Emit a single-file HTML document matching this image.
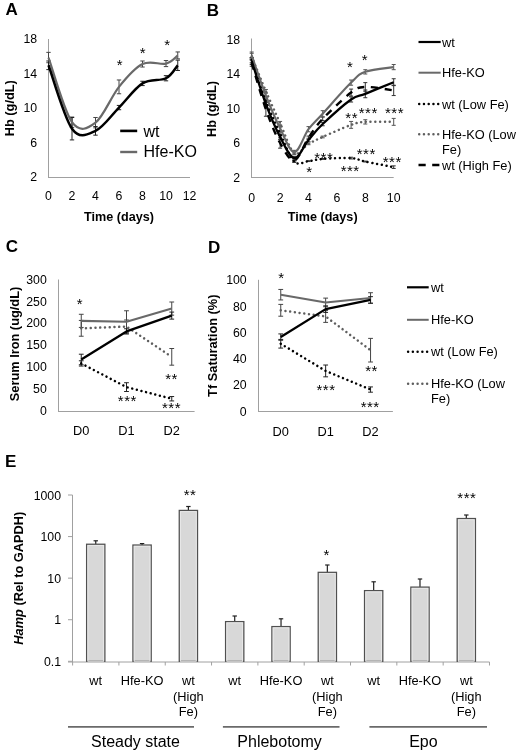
<!DOCTYPE html>
<html><head><meta charset="utf-8"><style>
html,body{margin:0;padding:0;background:#fff;}
body{width:520px;height:752px;overflow:hidden;}
svg{display:block;font-family:"Liberation Sans", sans-serif;filter:blur(0.3px);}
</style></head><body>
<svg width="520" height="752" viewBox="0 0 520 752">
<defs><pattern id="dots" width="2" height="2" patternUnits="userSpaceOnUse"><rect width="2" height="2" fill="#e2e2e2"/><rect width="1" height="1" fill="#cfcfcf"/></pattern></defs>
<rect width="520" height="752" fill="#fff"/>
<text x="5.60" y="15.30" font-size="17" text-anchor="start" font-weight="bold" font-style="normal" fill="#000" >A</text>
<line x1="48.50" y1="39.00" x2="48.50" y2="178.00" stroke="#a0a0a0" stroke-width="1" />
<line x1="48.50" y1="177.50" x2="190.00" y2="177.50" stroke="#a0a0a0" stroke-width="1" />
<text x="37.20" y="43.40" font-size="12.3" text-anchor="end" font-weight="normal" font-style="normal" fill="#000" >18</text>
<text x="37.20" y="77.90" font-size="12.3" text-anchor="end" font-weight="normal" font-style="normal" fill="#000" >14</text>
<text x="37.20" y="112.40" font-size="12.3" text-anchor="end" font-weight="normal" font-style="normal" fill="#000" >10</text>
<text x="37.20" y="146.90" font-size="12.3" text-anchor="end" font-weight="normal" font-style="normal" fill="#000" >6</text>
<text x="37.20" y="181.40" font-size="12.3" text-anchor="end" font-weight="normal" font-style="normal" fill="#000" >2</text>
<text x="48.50" y="200.20" font-size="12.3" text-anchor="middle" font-weight="normal" font-style="normal" fill="#000" >0</text>
<text x="72.00" y="200.20" font-size="12.3" text-anchor="middle" font-weight="normal" font-style="normal" fill="#000" >2</text>
<text x="95.50" y="200.20" font-size="12.3" text-anchor="middle" font-weight="normal" font-style="normal" fill="#000" >4</text>
<text x="119.00" y="200.20" font-size="12.3" text-anchor="middle" font-weight="normal" font-style="normal" fill="#000" >6</text>
<text x="142.50" y="200.20" font-size="12.3" text-anchor="middle" font-weight="normal" font-style="normal" fill="#000" >8</text>
<text x="166.00" y="200.20" font-size="12.3" text-anchor="middle" font-weight="normal" font-style="normal" fill="#000" >10</text>
<text x="189.50" y="200.20" font-size="12.3" text-anchor="middle" font-weight="normal" font-style="normal" fill="#000" >12</text>
<text x="119.00" y="220.80" font-size="12.6" text-anchor="middle" font-weight="bold" font-style="normal" fill="#000" >Time (days)</text>
<text x="0" y="0" font-size="12.8" text-anchor="middle" font-weight="bold" fill="#000" transform="translate(14.00,108.20) rotate(-90)">Hb (g/dL)</text>
<line x1="48.50" y1="52.37" x2="48.50" y2="62.72" stroke="#444" stroke-width="1.0" />
<line x1="46.30" y1="52.37" x2="50.70" y2="52.37" stroke="#444" stroke-width="1.0" />
<line x1="46.30" y1="62.72" x2="50.70" y2="62.72" stroke="#444" stroke-width="1.0" />
<line x1="72.00" y1="117.06" x2="72.00" y2="127.41" stroke="#444" stroke-width="1.0" />
<line x1="69.80" y1="117.06" x2="74.20" y2="117.06" stroke="#444" stroke-width="1.0" />
<line x1="69.80" y1="127.41" x2="74.20" y2="127.41" stroke="#444" stroke-width="1.0" />
<line x1="95.50" y1="117.49" x2="95.50" y2="127.84" stroke="#444" stroke-width="1.0" />
<line x1="93.30" y1="117.49" x2="97.70" y2="117.49" stroke="#444" stroke-width="1.0" />
<line x1="93.30" y1="127.84" x2="97.70" y2="127.84" stroke="#444" stroke-width="1.0" />
<line x1="119.00" y1="79.97" x2="119.00" y2="93.77" stroke="#444" stroke-width="1.0" />
<line x1="116.80" y1="79.97" x2="121.20" y2="79.97" stroke="#444" stroke-width="1.0" />
<line x1="116.80" y1="93.77" x2="121.20" y2="93.77" stroke="#444" stroke-width="1.0" />
<line x1="142.50" y1="60.99" x2="142.50" y2="67.03" stroke="#444" stroke-width="1.0" />
<line x1="140.30" y1="60.99" x2="144.70" y2="60.99" stroke="#444" stroke-width="1.0" />
<line x1="140.30" y1="67.03" x2="144.70" y2="67.03" stroke="#444" stroke-width="1.0" />
<line x1="166.00" y1="60.56" x2="166.00" y2="66.60" stroke="#444" stroke-width="1.0" />
<line x1="163.80" y1="60.56" x2="168.20" y2="60.56" stroke="#444" stroke-width="1.0" />
<line x1="163.80" y1="66.60" x2="168.20" y2="66.60" stroke="#444" stroke-width="1.0" />
<line x1="177.75" y1="51.94" x2="177.75" y2="58.84" stroke="#444" stroke-width="1.0" />
<line x1="175.55" y1="51.94" x2="179.95" y2="51.94" stroke="#444" stroke-width="1.0" />
<line x1="175.55" y1="58.84" x2="179.95" y2="58.84" stroke="#444" stroke-width="1.0" />
<line x1="48.50" y1="60.99" x2="48.50" y2="69.62" stroke="#222" stroke-width="1.0" />
<line x1="46.30" y1="60.99" x2="50.70" y2="60.99" stroke="#222" stroke-width="1.0" />
<line x1="46.30" y1="69.62" x2="50.70" y2="69.62" stroke="#222" stroke-width="1.0" />
<line x1="72.00" y1="117.49" x2="72.00" y2="139.91" stroke="#222" stroke-width="1.0" />
<line x1="69.80" y1="117.49" x2="74.20" y2="117.49" stroke="#222" stroke-width="1.0" />
<line x1="69.80" y1="139.91" x2="74.20" y2="139.91" stroke="#222" stroke-width="1.0" />
<line x1="95.50" y1="126.54" x2="95.50" y2="135.17" stroke="#222" stroke-width="1.0" />
<line x1="93.30" y1="126.54" x2="97.70" y2="126.54" stroke="#222" stroke-width="1.0" />
<line x1="93.30" y1="135.17" x2="97.70" y2="135.17" stroke="#222" stroke-width="1.0" />
<line x1="119.00" y1="105.41" x2="119.00" y2="109.72" stroke="#222" stroke-width="1.0" />
<line x1="116.80" y1="105.41" x2="121.20" y2="105.41" stroke="#222" stroke-width="1.0" />
<line x1="116.80" y1="109.72" x2="121.20" y2="109.72" stroke="#222" stroke-width="1.0" />
<line x1="142.50" y1="81.26" x2="142.50" y2="85.58" stroke="#222" stroke-width="1.0" />
<line x1="140.30" y1="81.26" x2="144.70" y2="81.26" stroke="#222" stroke-width="1.0" />
<line x1="140.30" y1="85.58" x2="144.70" y2="85.58" stroke="#222" stroke-width="1.0" />
<line x1="166.00" y1="75.66" x2="166.00" y2="80.83" stroke="#222" stroke-width="1.0" />
<line x1="163.80" y1="75.66" x2="168.20" y2="75.66" stroke="#222" stroke-width="1.0" />
<line x1="163.80" y1="80.83" x2="168.20" y2="80.83" stroke="#222" stroke-width="1.0" />
<line x1="177.75" y1="60.13" x2="177.75" y2="70.48" stroke="#222" stroke-width="1.0" />
<line x1="175.55" y1="60.13" x2="179.95" y2="60.13" stroke="#222" stroke-width="1.0" />
<line x1="175.55" y1="70.48" x2="179.95" y2="70.48" stroke="#222" stroke-width="1.0" />
<path d="M48.50,57.54 C52.42,68.33 64.17,111.38 72.00,122.23 C79.83,133.08 87.67,128.56 95.50,122.66 C103.33,116.77 111.17,96.64 119.00,86.87 C126.83,77.09 134.67,67.89 142.50,64.01 C150.33,60.13 160.12,65.02 166.00,63.58 C171.88,62.14 175.79,56.75 177.75,55.39" fill="none" stroke="#696969" stroke-width="2.2" stroke-linecap="butt" stroke-linejoin="round" />
<path d="M48.50,65.31 C52.42,75.87 64.17,117.77 72.00,128.70 C79.83,139.62 87.67,134.38 95.50,130.86 C103.33,127.33 111.17,115.47 119.00,107.57 C126.83,99.66 134.67,88.31 142.50,83.42 C150.33,78.53 160.12,81.26 166.00,78.24 C171.88,75.23 175.79,67.46 177.75,65.31" fill="none" stroke="#000000" stroke-width="2.5" stroke-linecap="butt" stroke-linejoin="round" />
<text x="119.85" y="70.22" font-size="15" text-anchor="middle" font-weight="normal" font-style="normal" fill="#000" letter-spacing="0.5">*</text>
<text x="142.85" y="57.83" font-size="15" text-anchor="middle" font-weight="normal" font-style="normal" fill="#000" letter-spacing="0.5">*</text>
<text x="167.35" y="50.43" font-size="15" text-anchor="middle" font-weight="normal" font-style="normal" fill="#000" letter-spacing="0.5">*</text>
<line x1="120.20" y1="130.90" x2="137.20" y2="130.90" stroke="#000000" stroke-width="2.6" />
<text x="143.50" y="136.60" font-size="16" text-anchor="start" font-weight="normal" font-style="normal" fill="#000" >wt</text>
<line x1="120.20" y1="152.00" x2="137.20" y2="152.00" stroke="#696969" stroke-width="2.4" />
<text x="143.50" y="157.40" font-size="16" text-anchor="start" font-weight="normal" font-style="normal" fill="#000" >Hfe-KO</text>
<text x="206.80" y="15.80" font-size="17" text-anchor="start" font-weight="bold" font-style="normal" fill="#000" >B</text>
<line x1="251.50" y1="38.50" x2="251.50" y2="178.00" stroke="#a0a0a0" stroke-width="1" />
<line x1="251.50" y1="177.50" x2="393.70" y2="177.50" stroke="#a0a0a0" stroke-width="1" />
<text x="240.20" y="43.90" font-size="12.3" text-anchor="end" font-weight="normal" font-style="normal" fill="#000" >18</text>
<text x="240.20" y="78.40" font-size="12.3" text-anchor="end" font-weight="normal" font-style="normal" fill="#000" >14</text>
<text x="240.20" y="112.90" font-size="12.3" text-anchor="end" font-weight="normal" font-style="normal" fill="#000" >10</text>
<text x="240.20" y="147.40" font-size="12.3" text-anchor="end" font-weight="normal" font-style="normal" fill="#000" >6</text>
<text x="240.20" y="181.90" font-size="12.3" text-anchor="end" font-weight="normal" font-style="normal" fill="#000" >2</text>
<text x="251.70" y="201.50" font-size="12.3" text-anchor="middle" font-weight="normal" font-style="normal" fill="#000" >0</text>
<text x="280.10" y="201.50" font-size="12.3" text-anchor="middle" font-weight="normal" font-style="normal" fill="#000" >2</text>
<text x="308.50" y="201.50" font-size="12.3" text-anchor="middle" font-weight="normal" font-style="normal" fill="#000" >4</text>
<text x="336.90" y="201.50" font-size="12.3" text-anchor="middle" font-weight="normal" font-style="normal" fill="#000" >6</text>
<text x="365.30" y="201.50" font-size="12.3" text-anchor="middle" font-weight="normal" font-style="normal" fill="#000" >8</text>
<text x="393.70" y="201.50" font-size="12.3" text-anchor="middle" font-weight="normal" font-style="normal" fill="#000" >10</text>
<text x="322.70" y="221.00" font-size="12.6" text-anchor="middle" font-weight="bold" font-style="normal" fill="#000" >Time (days)</text>
<text x="0" y="0" font-size="12.8" text-anchor="middle" font-weight="bold" fill="#000" transform="translate(216.20,109.00) rotate(-90)">Hb (g/dL)</text>
<line x1="251.70" y1="53.30" x2="251.70" y2="60.20" stroke="#555" stroke-width="1.0" />
<line x1="249.70" y1="53.30" x2="253.70" y2="53.30" stroke="#555" stroke-width="1.0" />
<line x1="249.70" y1="60.20" x2="253.70" y2="60.20" stroke="#555" stroke-width="1.0" />
<line x1="265.90" y1="89.53" x2="265.90" y2="92.97" stroke="#555" stroke-width="1.0" />
<line x1="263.90" y1="89.53" x2="267.90" y2="89.53" stroke="#555" stroke-width="1.0" />
<line x1="263.90" y1="92.97" x2="267.90" y2="92.97" stroke="#555" stroke-width="1.0" />
<line x1="280.10" y1="121.44" x2="280.10" y2="124.89" stroke="#555" stroke-width="1.0" />
<line x1="278.10" y1="121.44" x2="282.10" y2="121.44" stroke="#555" stroke-width="1.0" />
<line x1="278.10" y1="124.89" x2="282.10" y2="124.89" stroke="#555" stroke-width="1.0" />
<line x1="294.30" y1="151.19" x2="294.30" y2="154.64" stroke="#555" stroke-width="1.0" />
<line x1="292.30" y1="151.19" x2="296.30" y2="151.19" stroke="#555" stroke-width="1.0" />
<line x1="292.30" y1="154.64" x2="296.30" y2="154.64" stroke="#555" stroke-width="1.0" />
<line x1="308.50" y1="143.00" x2="308.50" y2="144.72" stroke="#555" stroke-width="1.0" />
<line x1="306.50" y1="143.00" x2="310.50" y2="143.00" stroke="#555" stroke-width="1.0" />
<line x1="306.50" y1="144.72" x2="310.50" y2="144.72" stroke="#555" stroke-width="1.0" />
<line x1="322.70" y1="136.10" x2="322.70" y2="137.82" stroke="#555" stroke-width="1.0" />
<line x1="320.70" y1="136.10" x2="324.70" y2="136.10" stroke="#555" stroke-width="1.0" />
<line x1="320.70" y1="137.82" x2="324.70" y2="137.82" stroke="#555" stroke-width="1.0" />
<line x1="351.10" y1="121.44" x2="351.10" y2="128.34" stroke="#555" stroke-width="1.0" />
<line x1="349.10" y1="121.44" x2="353.10" y2="121.44" stroke="#555" stroke-width="1.0" />
<line x1="349.10" y1="128.34" x2="353.10" y2="128.34" stroke="#555" stroke-width="1.0" />
<line x1="365.30" y1="119.71" x2="365.30" y2="124.03" stroke="#555" stroke-width="1.0" />
<line x1="363.30" y1="119.71" x2="367.30" y2="119.71" stroke="#555" stroke-width="1.0" />
<line x1="363.30" y1="124.03" x2="367.30" y2="124.03" stroke="#555" stroke-width="1.0" />
<line x1="393.70" y1="118.42" x2="393.70" y2="125.32" stroke="#555" stroke-width="1.0" />
<line x1="391.70" y1="118.42" x2="395.70" y2="118.42" stroke="#555" stroke-width="1.0" />
<line x1="391.70" y1="125.32" x2="395.70" y2="125.32" stroke="#555" stroke-width="1.0" />
<line x1="251.70" y1="57.61" x2="251.70" y2="62.79" stroke="#333" stroke-width="1.0" />
<line x1="249.70" y1="57.61" x2="253.70" y2="57.61" stroke="#333" stroke-width="1.0" />
<line x1="249.70" y1="62.79" x2="253.70" y2="62.79" stroke="#333" stroke-width="1.0" />
<line x1="265.90" y1="99.01" x2="265.90" y2="102.46" stroke="#333" stroke-width="1.0" />
<line x1="263.90" y1="99.01" x2="267.90" y2="99.01" stroke="#333" stroke-width="1.0" />
<line x1="263.90" y1="102.46" x2="267.90" y2="102.46" stroke="#333" stroke-width="1.0" />
<line x1="280.10" y1="131.79" x2="280.10" y2="135.24" stroke="#333" stroke-width="1.0" />
<line x1="278.10" y1="131.79" x2="282.10" y2="131.79" stroke="#333" stroke-width="1.0" />
<line x1="278.10" y1="135.24" x2="282.10" y2="135.24" stroke="#333" stroke-width="1.0" />
<line x1="294.30" y1="160.68" x2="294.30" y2="162.41" stroke="#333" stroke-width="1.0" />
<line x1="292.30" y1="160.68" x2="296.30" y2="160.68" stroke="#333" stroke-width="1.0" />
<line x1="292.30" y1="162.41" x2="296.30" y2="162.41" stroke="#333" stroke-width="1.0" />
<line x1="308.50" y1="160.68" x2="308.50" y2="161.54" stroke="#333" stroke-width="1.0" />
<line x1="306.50" y1="160.68" x2="310.50" y2="160.68" stroke="#333" stroke-width="1.0" />
<line x1="306.50" y1="161.54" x2="310.50" y2="161.54" stroke="#333" stroke-width="1.0" />
<line x1="322.70" y1="158.53" x2="322.70" y2="159.39" stroke="#333" stroke-width="1.0" />
<line x1="320.70" y1="158.53" x2="324.70" y2="158.53" stroke="#333" stroke-width="1.0" />
<line x1="320.70" y1="159.39" x2="324.70" y2="159.39" stroke="#333" stroke-width="1.0" />
<line x1="351.10" y1="157.23" x2="351.10" y2="158.96" stroke="#333" stroke-width="1.0" />
<line x1="349.10" y1="157.23" x2="353.10" y2="157.23" stroke="#333" stroke-width="1.0" />
<line x1="349.10" y1="158.96" x2="353.10" y2="158.96" stroke="#333" stroke-width="1.0" />
<line x1="365.30" y1="161.11" x2="365.30" y2="161.97" stroke="#333" stroke-width="1.0" />
<line x1="363.30" y1="161.11" x2="367.30" y2="161.11" stroke="#333" stroke-width="1.0" />
<line x1="363.30" y1="161.97" x2="367.30" y2="161.97" stroke="#333" stroke-width="1.0" />
<line x1="393.70" y1="165.86" x2="393.70" y2="168.44" stroke="#333" stroke-width="1.0" />
<line x1="391.70" y1="165.86" x2="395.70" y2="165.86" stroke="#333" stroke-width="1.0" />
<line x1="391.70" y1="168.44" x2="395.70" y2="168.44" stroke="#333" stroke-width="1.0" />
<line x1="251.70" y1="59.34" x2="251.70" y2="66.24" stroke="#333" stroke-width="1.0" />
<line x1="249.70" y1="59.34" x2="253.70" y2="59.34" stroke="#333" stroke-width="1.0" />
<line x1="249.70" y1="66.24" x2="253.70" y2="66.24" stroke="#333" stroke-width="1.0" />
<line x1="265.90" y1="102.46" x2="265.90" y2="116.26" stroke="#333" stroke-width="1.0" />
<line x1="263.90" y1="102.46" x2="267.90" y2="102.46" stroke="#333" stroke-width="1.0" />
<line x1="263.90" y1="116.26" x2="267.90" y2="116.26" stroke="#333" stroke-width="1.0" />
<line x1="280.10" y1="137.82" x2="280.10" y2="148.18" stroke="#333" stroke-width="1.0" />
<line x1="278.10" y1="137.82" x2="282.10" y2="137.82" stroke="#333" stroke-width="1.0" />
<line x1="278.10" y1="148.18" x2="282.10" y2="148.18" stroke="#333" stroke-width="1.0" />
<line x1="294.30" y1="158.53" x2="294.30" y2="161.97" stroke="#333" stroke-width="1.0" />
<line x1="292.30" y1="158.53" x2="296.30" y2="158.53" stroke="#333" stroke-width="1.0" />
<line x1="292.30" y1="161.97" x2="296.30" y2="161.97" stroke="#333" stroke-width="1.0" />
<line x1="308.50" y1="136.10" x2="308.50" y2="139.55" stroke="#333" stroke-width="1.0" />
<line x1="306.50" y1="136.10" x2="310.50" y2="136.10" stroke="#333" stroke-width="1.0" />
<line x1="306.50" y1="139.55" x2="310.50" y2="139.55" stroke="#333" stroke-width="1.0" />
<line x1="322.70" y1="117.12" x2="322.70" y2="120.57" stroke="#333" stroke-width="1.0" />
<line x1="320.70" y1="117.12" x2="324.70" y2="117.12" stroke="#333" stroke-width="1.0" />
<line x1="320.70" y1="120.57" x2="324.70" y2="120.57" stroke="#333" stroke-width="1.0" />
<line x1="351.10" y1="89.09" x2="351.10" y2="95.99" stroke="#333" stroke-width="1.0" />
<line x1="349.10" y1="89.09" x2="353.10" y2="89.09" stroke="#333" stroke-width="1.0" />
<line x1="349.10" y1="95.99" x2="353.10" y2="95.99" stroke="#333" stroke-width="1.0" />
<line x1="365.30" y1="82.62" x2="365.30" y2="91.25" stroke="#333" stroke-width="1.0" />
<line x1="363.30" y1="82.62" x2="367.30" y2="82.62" stroke="#333" stroke-width="1.0" />
<line x1="363.30" y1="91.25" x2="367.30" y2="91.25" stroke="#333" stroke-width="1.0" />
<line x1="393.70" y1="85.21" x2="393.70" y2="95.56" stroke="#333" stroke-width="1.0" />
<line x1="391.70" y1="85.21" x2="395.70" y2="85.21" stroke="#333" stroke-width="1.0" />
<line x1="391.70" y1="95.56" x2="395.70" y2="95.56" stroke="#333" stroke-width="1.0" />
<line x1="251.70" y1="52.01" x2="251.70" y2="58.91" stroke="#555" stroke-width="1.0" />
<line x1="249.70" y1="52.01" x2="253.70" y2="52.01" stroke="#555" stroke-width="1.0" />
<line x1="249.70" y1="58.91" x2="253.70" y2="58.91" stroke="#555" stroke-width="1.0" />
<line x1="265.90" y1="92.97" x2="265.90" y2="98.15" stroke="#555" stroke-width="1.0" />
<line x1="263.90" y1="92.97" x2="267.90" y2="92.97" stroke="#555" stroke-width="1.0" />
<line x1="263.90" y1="98.15" x2="267.90" y2="98.15" stroke="#555" stroke-width="1.0" />
<line x1="280.10" y1="125.75" x2="280.10" y2="130.93" stroke="#555" stroke-width="1.0" />
<line x1="278.10" y1="125.75" x2="282.10" y2="125.75" stroke="#555" stroke-width="1.0" />
<line x1="278.10" y1="130.93" x2="282.10" y2="130.93" stroke="#555" stroke-width="1.0" />
<line x1="294.30" y1="150.33" x2="294.30" y2="153.78" stroke="#555" stroke-width="1.0" />
<line x1="292.30" y1="150.33" x2="296.30" y2="150.33" stroke="#555" stroke-width="1.0" />
<line x1="292.30" y1="153.78" x2="296.30" y2="153.78" stroke="#555" stroke-width="1.0" />
<line x1="308.50" y1="126.61" x2="308.50" y2="131.79" stroke="#555" stroke-width="1.0" />
<line x1="306.50" y1="126.61" x2="310.50" y2="126.61" stroke="#555" stroke-width="1.0" />
<line x1="306.50" y1="131.79" x2="310.50" y2="131.79" stroke="#555" stroke-width="1.0" />
<line x1="322.70" y1="110.66" x2="322.70" y2="116.69" stroke="#555" stroke-width="1.0" />
<line x1="320.70" y1="110.66" x2="324.70" y2="110.66" stroke="#555" stroke-width="1.0" />
<line x1="320.70" y1="116.69" x2="324.70" y2="116.69" stroke="#555" stroke-width="1.0" />
<line x1="351.10" y1="80.04" x2="351.10" y2="85.21" stroke="#555" stroke-width="1.0" />
<line x1="349.10" y1="80.04" x2="353.10" y2="80.04" stroke="#555" stroke-width="1.0" />
<line x1="349.10" y1="85.21" x2="353.10" y2="85.21" stroke="#555" stroke-width="1.0" />
<line x1="365.30" y1="69.69" x2="365.30" y2="74.00" stroke="#555" stroke-width="1.0" />
<line x1="363.30" y1="69.69" x2="367.30" y2="69.69" stroke="#555" stroke-width="1.0" />
<line x1="363.30" y1="74.00" x2="367.30" y2="74.00" stroke="#555" stroke-width="1.0" />
<line x1="393.70" y1="64.51" x2="393.70" y2="69.69" stroke="#555" stroke-width="1.0" />
<line x1="391.70" y1="64.51" x2="395.70" y2="64.51" stroke="#555" stroke-width="1.0" />
<line x1="391.70" y1="69.69" x2="395.70" y2="69.69" stroke="#555" stroke-width="1.0" />
<line x1="251.70" y1="57.61" x2="251.70" y2="64.51" stroke="#333" stroke-width="1.0" />
<line x1="249.70" y1="57.61" x2="253.70" y2="57.61" stroke="#333" stroke-width="1.0" />
<line x1="249.70" y1="64.51" x2="253.70" y2="64.51" stroke="#333" stroke-width="1.0" />
<line x1="265.90" y1="101.60" x2="265.90" y2="106.78" stroke="#333" stroke-width="1.0" />
<line x1="263.90" y1="101.60" x2="267.90" y2="101.60" stroke="#333" stroke-width="1.0" />
<line x1="263.90" y1="106.78" x2="267.90" y2="106.78" stroke="#333" stroke-width="1.0" />
<line x1="280.10" y1="134.38" x2="280.10" y2="139.55" stroke="#333" stroke-width="1.0" />
<line x1="278.10" y1="134.38" x2="282.10" y2="134.38" stroke="#333" stroke-width="1.0" />
<line x1="278.10" y1="139.55" x2="282.10" y2="139.55" stroke="#333" stroke-width="1.0" />
<line x1="294.30" y1="156.37" x2="294.30" y2="159.82" stroke="#333" stroke-width="1.0" />
<line x1="292.30" y1="156.37" x2="296.30" y2="156.37" stroke="#333" stroke-width="1.0" />
<line x1="292.30" y1="159.82" x2="296.30" y2="159.82" stroke="#333" stroke-width="1.0" />
<line x1="308.50" y1="138.26" x2="308.50" y2="141.71" stroke="#333" stroke-width="1.0" />
<line x1="306.50" y1="138.26" x2="310.50" y2="138.26" stroke="#333" stroke-width="1.0" />
<line x1="306.50" y1="141.71" x2="310.50" y2="141.71" stroke="#333" stroke-width="1.0" />
<line x1="322.70" y1="122.30" x2="322.70" y2="125.75" stroke="#333" stroke-width="1.0" />
<line x1="320.70" y1="122.30" x2="324.70" y2="122.30" stroke="#333" stroke-width="1.0" />
<line x1="320.70" y1="125.75" x2="324.70" y2="125.75" stroke="#333" stroke-width="1.0" />
<line x1="351.10" y1="96.86" x2="351.10" y2="102.03" stroke="#333" stroke-width="1.0" />
<line x1="349.10" y1="96.86" x2="353.10" y2="96.86" stroke="#333" stroke-width="1.0" />
<line x1="349.10" y1="102.03" x2="353.10" y2="102.03" stroke="#333" stroke-width="1.0" />
<line x1="365.30" y1="89.96" x2="365.30" y2="97.72" stroke="#333" stroke-width="1.0" />
<line x1="363.30" y1="89.96" x2="367.30" y2="89.96" stroke="#333" stroke-width="1.0" />
<line x1="363.30" y1="97.72" x2="367.30" y2="97.72" stroke="#333" stroke-width="1.0" />
<line x1="393.70" y1="78.74" x2="393.70" y2="85.64" stroke="#333" stroke-width="1.0" />
<line x1="391.70" y1="78.74" x2="395.70" y2="78.74" stroke="#333" stroke-width="1.0" />
<line x1="391.70" y1="85.64" x2="395.70" y2="85.64" stroke="#333" stroke-width="1.0" />
<path d="M251.70,56.75 C254.07,62.50 261.17,80.18 265.90,91.25 C270.63,102.32 275.37,112.88 280.10,123.16 C284.83,133.44 289.57,149.47 294.30,152.92 C299.03,156.37 303.77,146.52 308.50,143.86 C313.23,141.20 315.60,140.12 322.70,136.96 C329.80,133.80 344.00,127.40 351.10,124.89 C358.20,122.37 358.20,122.37 365.30,121.87 C372.40,121.37 388.97,121.87 393.70,121.87" fill="none" stroke="#5e5e5e" stroke-width="2.5" stroke-linecap="round" stroke-linejoin="round" stroke-dasharray="0.01 4.74" />
<path d="M251.70,60.20 C254.07,66.96 261.17,88.52 265.90,100.74 C270.63,112.96 275.37,123.38 280.10,133.51 C284.83,143.65 289.57,156.94 294.30,161.54 C299.03,166.14 303.77,161.54 308.50,161.11 C313.23,160.68 315.60,159.46 322.70,158.96 C329.80,158.45 344.00,157.66 351.10,158.09 C358.20,158.53 358.20,160.03 365.30,161.54 C372.40,163.05 388.97,166.22 393.70,167.15" fill="none" stroke="#000000" stroke-width="2.5" stroke-linecap="round" stroke-linejoin="round" stroke-dasharray="0.01 4.74" />
<path d="M251.70,62.79 C254.07,70.55 261.17,95.99 265.90,109.36 C270.63,122.73 275.37,134.52 280.10,143.00 C284.83,151.48 289.57,161.11 294.30,160.25 C299.03,159.39 303.77,144.72 308.50,137.82 C313.23,130.92 315.60,126.40 322.70,118.85 C329.80,111.30 344.00,97.86 351.10,92.54 C358.20,87.23 358.20,87.30 365.30,86.94 C372.40,86.58 388.97,89.81 393.70,90.39" fill="none" stroke="#000000" stroke-width="2.4" stroke-linecap="butt" stroke-linejoin="round" stroke-dasharray="7.2 6.5" />
<path d="M251.70,55.46 C254.07,62.14 261.17,83.42 265.90,95.56 C270.63,107.71 275.37,118.92 280.10,128.34 C284.83,137.75 289.57,151.91 294.30,152.06 C299.03,152.20 303.77,135.60 308.50,129.20 C313.23,122.80 315.60,121.44 322.70,113.67 C329.80,105.91 344.00,89.60 351.10,82.62 C358.20,75.65 358.20,74.43 365.30,71.84 C372.40,69.26 388.97,67.89 393.70,67.10" fill="none" stroke="#696969" stroke-width="2.1" stroke-linecap="butt" stroke-linejoin="round" />
<path d="M251.70,61.06 C254.07,68.25 261.17,91.54 265.90,104.19 C270.63,116.84 275.37,127.98 280.10,136.96 C284.83,145.95 289.57,157.59 294.30,158.09 C299.03,158.60 303.77,145.66 308.50,139.98 C313.23,134.30 315.60,130.78 322.70,124.03 C329.80,117.27 344.00,104.47 351.10,99.44 C358.20,94.41 358.20,96.71 365.30,93.84 C372.40,90.96 388.97,84.13 393.70,82.19" fill="none" stroke="#000000" stroke-width="2.3" stroke-linecap="butt" stroke-linejoin="round" />
<text x="350.05" y="71.92" font-size="15" text-anchor="middle" font-weight="normal" font-style="normal" fill="#000" letter-spacing="0.5">*</text>
<text x="364.85" y="65.02" font-size="15" text-anchor="middle" font-weight="normal" font-style="normal" fill="#000" letter-spacing="0.5">*</text>
<text x="351.65" y="122.62" font-size="15" text-anchor="middle" font-weight="normal" font-style="normal" fill="#000" letter-spacing="0.5">**</text>
<text x="368.25" y="118.22" font-size="15" text-anchor="middle" font-weight="normal" font-style="normal" fill="#000" letter-spacing="0.5">***</text>
<text x="394.55" y="118.22" font-size="15" text-anchor="middle" font-weight="normal" font-style="normal" fill="#000" letter-spacing="0.5">***</text>
<text x="323.75" y="163.12" font-size="15" text-anchor="middle" font-weight="normal" font-style="normal" fill="#000" letter-spacing="0.5">***</text>
<text x="309.45" y="176.53" font-size="15" text-anchor="middle" font-weight="normal" font-style="normal" fill="#000" letter-spacing="0.5">*</text>
<text x="366.25" y="158.72" font-size="15" text-anchor="middle" font-weight="normal" font-style="normal" fill="#000" letter-spacing="0.5">***</text>
<text x="350.15" y="176.42" font-size="15" text-anchor="middle" font-weight="normal" font-style="normal" fill="#000" letter-spacing="0.5">***</text>
<text x="392.25" y="166.62" font-size="15" text-anchor="middle" font-weight="normal" font-style="normal" fill="#000" letter-spacing="0.5">***</text>
<line x1="418.50" y1="42.00" x2="440.70" y2="42.00" stroke="#000000" stroke-width="2.2"  />
<text x="442.00" y="46.60" font-size="12.8" text-anchor="start" font-weight="normal" font-style="normal" fill="#000" >wt</text>
<line x1="418.50" y1="72.70" x2="440.70" y2="72.70" stroke="#696969" stroke-width="2.0"  />
<text x="442.00" y="77.30" font-size="12.8" text-anchor="start" font-weight="normal" font-style="normal" fill="#000" >Hfe-KO</text>
<line x1="419.20" y1="104.00" x2="440.70" y2="104.00" stroke="#000000" stroke-width="2.5" stroke-dasharray="0.01 4.74" stroke-linecap="round"/>
<text x="442.00" y="108.60" font-size="12.8" text-anchor="start" font-weight="normal" font-style="normal" fill="#000" >wt (Low Fe)</text>
<line x1="419.20" y1="134.30" x2="440.70" y2="134.30" stroke="#5e5e5e" stroke-width="2.5" stroke-dasharray="0.01 4.74" stroke-linecap="round"/>
<text x="442.00" y="138.90" font-size="12.8" text-anchor="start" font-weight="normal" font-style="normal" fill="#000" >Hfe-KO (Low</text>
<line x1="418.50" y1="165.00" x2="440.70" y2="165.00" stroke="#000000" stroke-width="2.4" stroke-dasharray="7.2 6.5" />
<text x="442.00" y="169.60" font-size="12.8" text-anchor="start" font-weight="normal" font-style="normal" fill="#000" >wt (High Fe)</text>
<text x="442.00" y="154.10" font-size="12.8" text-anchor="start" font-weight="normal" font-style="normal" fill="#000" >Fe)</text>
<text x="5.70" y="251.90" font-size="17" text-anchor="start" font-weight="bold" font-style="normal" fill="#000" >C</text>
<line x1="58.50" y1="279.50" x2="58.50" y2="412.00" stroke="#a0a0a0" stroke-width="1" />
<line x1="58.50" y1="411.50" x2="194.60" y2="411.50" stroke="#a0a0a0" stroke-width="1" />
<text x="46.80" y="283.59" font-size="12.3" text-anchor="end" font-weight="normal" font-style="normal" fill="#000" >300</text>
<text x="46.80" y="305.52" font-size="12.3" text-anchor="end" font-weight="normal" font-style="normal" fill="#000" >250</text>
<text x="46.80" y="327.46" font-size="12.3" text-anchor="end" font-weight="normal" font-style="normal" fill="#000" >200</text>
<text x="46.80" y="349.39" font-size="12.3" text-anchor="end" font-weight="normal" font-style="normal" fill="#000" >150</text>
<text x="46.80" y="371.33" font-size="12.3" text-anchor="end" font-weight="normal" font-style="normal" fill="#000" >100</text>
<text x="46.80" y="393.26" font-size="12.3" text-anchor="end" font-weight="normal" font-style="normal" fill="#000" >50</text>
<text x="46.80" y="415.20" font-size="12.3" text-anchor="end" font-weight="normal" font-style="normal" fill="#000" >0</text>
<text x="81.25" y="435.00" font-size="12.8" text-anchor="middle" font-weight="normal" font-style="normal" fill="#000" >D0</text>
<text x="126.50" y="435.00" font-size="12.8" text-anchor="middle" font-weight="normal" font-style="normal" fill="#000" >D1</text>
<text x="171.75" y="435.00" font-size="12.8" text-anchor="middle" font-weight="normal" font-style="normal" fill="#000" >D2</text>
<text x="0" y="0" font-size="12.8" text-anchor="middle" font-weight="bold" fill="#000" transform="translate(18.70,344.00) rotate(-90)">Serum Iron (ug/dL)</text>
<line x1="81.25" y1="320.43" x2="81.25" y2="336.22" stroke="#444" stroke-width="1.0" />
<line x1="78.85" y1="320.43" x2="83.65" y2="320.43" stroke="#444" stroke-width="1.0" />
<line x1="78.85" y1="336.22" x2="83.65" y2="336.22" stroke="#444" stroke-width="1.0" />
<line x1="126.50" y1="319.99" x2="126.50" y2="333.15" stroke="#444" stroke-width="1.0" />
<line x1="124.10" y1="319.99" x2="128.90" y2="319.99" stroke="#444" stroke-width="1.0" />
<line x1="124.10" y1="333.15" x2="128.90" y2="333.15" stroke="#444" stroke-width="1.0" />
<line x1="171.75" y1="348.50" x2="171.75" y2="365.18" stroke="#444" stroke-width="1.0" />
<line x1="169.35" y1="348.50" x2="174.15" y2="348.50" stroke="#444" stroke-width="1.0" />
<line x1="169.35" y1="365.18" x2="174.15" y2="365.18" stroke="#444" stroke-width="1.0" />
<line x1="81.25" y1="360.79" x2="81.25" y2="366.05" stroke="#222" stroke-width="1.0" />
<line x1="78.85" y1="360.79" x2="83.65" y2="360.79" stroke="#222" stroke-width="1.0" />
<line x1="78.85" y1="366.05" x2="83.65" y2="366.05" stroke="#222" stroke-width="1.0" />
<line x1="126.50" y1="382.72" x2="126.50" y2="391.50" stroke="#222" stroke-width="1.0" />
<line x1="124.10" y1="382.72" x2="128.90" y2="382.72" stroke="#222" stroke-width="1.0" />
<line x1="124.10" y1="391.50" x2="128.90" y2="391.50" stroke="#222" stroke-width="1.0" />
<line x1="171.75" y1="396.54" x2="171.75" y2="400.93" stroke="#222" stroke-width="1.0" />
<line x1="169.35" y1="396.54" x2="174.15" y2="396.54" stroke="#222" stroke-width="1.0" />
<line x1="169.35" y1="400.93" x2="174.15" y2="400.93" stroke="#222" stroke-width="1.0" />
<line x1="81.25" y1="314.29" x2="81.25" y2="327.45" stroke="#444" stroke-width="1.0" />
<line x1="78.85" y1="314.29" x2="83.65" y2="314.29" stroke="#444" stroke-width="1.0" />
<line x1="78.85" y1="327.45" x2="83.65" y2="327.45" stroke="#444" stroke-width="1.0" />
<line x1="126.50" y1="310.78" x2="126.50" y2="332.71" stroke="#444" stroke-width="1.0" />
<line x1="124.10" y1="310.78" x2="128.90" y2="310.78" stroke="#444" stroke-width="1.0" />
<line x1="124.10" y1="332.71" x2="128.90" y2="332.71" stroke="#444" stroke-width="1.0" />
<line x1="171.75" y1="302.00" x2="171.75" y2="315.16" stroke="#444" stroke-width="1.0" />
<line x1="169.35" y1="302.00" x2="174.15" y2="302.00" stroke="#444" stroke-width="1.0" />
<line x1="169.35" y1="315.16" x2="174.15" y2="315.16" stroke="#444" stroke-width="1.0" />
<line x1="81.25" y1="354.21" x2="81.25" y2="364.74" stroke="#222" stroke-width="1.0" />
<line x1="78.85" y1="354.21" x2="83.65" y2="354.21" stroke="#222" stroke-width="1.0" />
<line x1="78.85" y1="364.74" x2="83.65" y2="364.74" stroke="#222" stroke-width="1.0" />
<line x1="126.50" y1="328.76" x2="126.50" y2="334.03" stroke="#222" stroke-width="1.0" />
<line x1="124.10" y1="328.76" x2="128.90" y2="328.76" stroke="#222" stroke-width="1.0" />
<line x1="124.10" y1="334.03" x2="128.90" y2="334.03" stroke="#222" stroke-width="1.0" />
<line x1="171.75" y1="312.09" x2="171.75" y2="319.11" stroke="#222" stroke-width="1.0" />
<line x1="169.35" y1="312.09" x2="174.15" y2="312.09" stroke="#222" stroke-width="1.0" />
<line x1="169.35" y1="319.11" x2="174.15" y2="319.11" stroke="#222" stroke-width="1.0" />
<path d="M81.25,328.32 L126.50,326.57 L171.75,356.84" fill="none" stroke="#5e5e5e" stroke-width="2.5" stroke-linecap="round" stroke-linejoin="round" stroke-dasharray="0.01 4.74" />
<path d="M81.25,363.42 L126.50,387.11 L171.75,398.74" fill="none" stroke="#000000" stroke-width="2.5" stroke-linecap="round" stroke-linejoin="round" stroke-dasharray="0.01 4.74" />
<path d="M81.25,320.87 L126.50,321.74 L171.75,308.58" fill="none" stroke="#696969" stroke-width="2.1" stroke-linecap="butt" stroke-linejoin="round" />
<path d="M81.25,359.47 L126.50,331.40 L171.75,315.60" fill="none" stroke="#000000" stroke-width="2.3" stroke-linecap="butt" stroke-linejoin="round" />
<text x="79.95" y="309.33" font-size="15" text-anchor="middle" font-weight="normal" font-style="normal" fill="#000" letter-spacing="0.5">*</text>
<text x="171.50" y="383.98" font-size="15" text-anchor="middle" font-weight="normal" font-style="normal" fill="#000" letter-spacing="0.5">**</text>
<text x="127.35" y="406.48" font-size="15" text-anchor="middle" font-weight="normal" font-style="normal" fill="#000" letter-spacing="0.5">***</text>
<text x="171.50" y="413.08" font-size="15" text-anchor="middle" font-weight="normal" font-style="normal" fill="#000" letter-spacing="0.5">***</text>
<text x="208.00" y="252.90" font-size="17" text-anchor="start" font-weight="bold" font-style="normal" fill="#000" >D</text>
<line x1="258.50" y1="279.80" x2="258.50" y2="412.00" stroke="#a0a0a0" stroke-width="1" />
<line x1="258.50" y1="411.50" x2="392.90" y2="411.50" stroke="#a0a0a0" stroke-width="1" />
<text x="246.70" y="284.40" font-size="12.3" text-anchor="end" font-weight="normal" font-style="normal" fill="#000" >100</text>
<text x="246.70" y="310.64" font-size="12.3" text-anchor="end" font-weight="normal" font-style="normal" fill="#000" >80</text>
<text x="246.70" y="336.88" font-size="12.3" text-anchor="end" font-weight="normal" font-style="normal" fill="#000" >60</text>
<text x="246.70" y="363.12" font-size="12.3" text-anchor="end" font-weight="normal" font-style="normal" fill="#000" >40</text>
<text x="246.70" y="389.36" font-size="12.3" text-anchor="end" font-weight="normal" font-style="normal" fill="#000" >20</text>
<text x="246.70" y="415.60" font-size="12.3" text-anchor="end" font-weight="normal" font-style="normal" fill="#000" >0</text>
<text x="280.75" y="435.50" font-size="12.8" text-anchor="middle" font-weight="normal" font-style="normal" fill="#000" >D0</text>
<text x="325.65" y="435.50" font-size="12.8" text-anchor="middle" font-weight="normal" font-style="normal" fill="#000" >D1</text>
<text x="370.55" y="435.50" font-size="12.8" text-anchor="middle" font-weight="normal" font-style="normal" fill="#000" >D2</text>
<text x="0" y="0" font-size="12.8" text-anchor="middle" font-weight="bold" fill="#000" transform="translate(216.80,345.70) rotate(-90)">Tf Saturation (%)</text>
<line x1="280.75" y1="304.40" x2="280.75" y2="316.21" stroke="#444" stroke-width="1.0" />
<line x1="278.35" y1="304.40" x2="283.15" y2="304.40" stroke="#444" stroke-width="1.0" />
<line x1="278.35" y1="316.21" x2="283.15" y2="316.21" stroke="#444" stroke-width="1.0" />
<line x1="325.65" y1="310.57" x2="325.65" y2="322.38" stroke="#444" stroke-width="1.0" />
<line x1="323.25" y1="310.57" x2="328.05" y2="310.57" stroke="#444" stroke-width="1.0" />
<line x1="323.25" y1="322.38" x2="328.05" y2="322.38" stroke="#444" stroke-width="1.0" />
<line x1="370.55" y1="338.38" x2="370.55" y2="362.00" stroke="#444" stroke-width="1.0" />
<line x1="368.15" y1="338.38" x2="372.95" y2="338.38" stroke="#444" stroke-width="1.0" />
<line x1="368.15" y1="362.00" x2="372.95" y2="362.00" stroke="#444" stroke-width="1.0" />
<line x1="280.75" y1="339.43" x2="280.75" y2="348.09" stroke="#222" stroke-width="1.0" />
<line x1="278.35" y1="339.43" x2="283.15" y2="339.43" stroke="#222" stroke-width="1.0" />
<line x1="278.35" y1="348.09" x2="283.15" y2="348.09" stroke="#222" stroke-width="1.0" />
<line x1="325.65" y1="365.02" x2="325.65" y2="376.83" stroke="#222" stroke-width="1.0" />
<line x1="323.25" y1="365.02" x2="328.05" y2="365.02" stroke="#222" stroke-width="1.0" />
<line x1="323.25" y1="376.83" x2="328.05" y2="376.83" stroke="#222" stroke-width="1.0" />
<line x1="370.55" y1="386.93" x2="370.55" y2="392.18" stroke="#222" stroke-width="1.0" />
<line x1="368.15" y1="386.93" x2="372.95" y2="386.93" stroke="#222" stroke-width="1.0" />
<line x1="368.15" y1="392.18" x2="372.95" y2="392.18" stroke="#222" stroke-width="1.0" />
<line x1="280.75" y1="289.45" x2="280.75" y2="299.94" stroke="#444" stroke-width="1.0" />
<line x1="278.35" y1="289.45" x2="283.15" y2="289.45" stroke="#444" stroke-width="1.0" />
<line x1="278.35" y1="299.94" x2="283.15" y2="299.94" stroke="#444" stroke-width="1.0" />
<line x1="325.65" y1="298.11" x2="325.65" y2="306.76" stroke="#444" stroke-width="1.0" />
<line x1="323.25" y1="298.11" x2="328.05" y2="298.11" stroke="#444" stroke-width="1.0" />
<line x1="323.25" y1="306.76" x2="328.05" y2="306.76" stroke="#444" stroke-width="1.0" />
<line x1="370.55" y1="292.73" x2="370.55" y2="303.22" stroke="#444" stroke-width="1.0" />
<line x1="368.15" y1="292.73" x2="372.95" y2="292.73" stroke="#444" stroke-width="1.0" />
<line x1="368.15" y1="303.22" x2="372.95" y2="303.22" stroke="#444" stroke-width="1.0" />
<line x1="280.75" y1="333.92" x2="280.75" y2="340.22" stroke="#222" stroke-width="1.0" />
<line x1="278.35" y1="333.92" x2="283.15" y2="333.92" stroke="#222" stroke-width="1.0" />
<line x1="278.35" y1="340.22" x2="283.15" y2="340.22" stroke="#222" stroke-width="1.0" />
<line x1="325.65" y1="305.85" x2="325.65" y2="312.41" stroke="#222" stroke-width="1.0" />
<line x1="323.25" y1="305.85" x2="328.05" y2="305.85" stroke="#222" stroke-width="1.0" />
<line x1="323.25" y1="312.41" x2="328.05" y2="312.41" stroke="#222" stroke-width="1.0" />
<line x1="370.55" y1="296.66" x2="370.55" y2="303.22" stroke="#222" stroke-width="1.0" />
<line x1="368.15" y1="296.66" x2="372.95" y2="296.66" stroke="#222" stroke-width="1.0" />
<line x1="368.15" y1="303.22" x2="372.95" y2="303.22" stroke="#222" stroke-width="1.0" />
<path d="M280.75,310.31 L325.65,316.47 L370.55,350.19" fill="none" stroke="#5e5e5e" stroke-width="2.5" stroke-linecap="round" stroke-linejoin="round" stroke-dasharray="0.01 4.74" />
<path d="M280.75,343.76 L325.65,370.92 L370.55,389.55" fill="none" stroke="#000000" stroke-width="2.5" stroke-linecap="round" stroke-linejoin="round" stroke-dasharray="0.01 4.74" />
<path d="M280.75,294.69 L325.65,302.44 L370.55,297.97" fill="none" stroke="#696969" stroke-width="2.1" stroke-linecap="butt" stroke-linejoin="round" />
<path d="M280.75,337.07 L325.65,309.13 L370.55,299.94" fill="none" stroke="#000000" stroke-width="2.3" stroke-linecap="butt" stroke-linejoin="round" />
<text x="281.50" y="283.23" font-size="15" text-anchor="middle" font-weight="normal" font-style="normal" fill="#000" letter-spacing="0.5">*</text>
<text x="371.50" y="376.48" font-size="15" text-anchor="middle" font-weight="normal" font-style="normal" fill="#000" letter-spacing="0.5">**</text>
<text x="326.00" y="395.23" font-size="15" text-anchor="middle" font-weight="normal" font-style="normal" fill="#000" letter-spacing="0.5">***</text>
<text x="370.15" y="412.33" font-size="15" text-anchor="middle" font-weight="normal" font-style="normal" fill="#000" letter-spacing="0.5">***</text>
<line x1="407.00" y1="287.30" x2="428.70" y2="287.30" stroke="#000000" stroke-width="2.2"  />
<text x="431.00" y="291.90" font-size="12.8" text-anchor="start" font-weight="normal" font-style="normal" fill="#000" >wt</text>
<line x1="407.00" y1="319.80" x2="428.70" y2="319.80" stroke="#696969" stroke-width="2.0"  />
<text x="431.00" y="324.40" font-size="12.8" text-anchor="start" font-weight="normal" font-style="normal" fill="#000" >Hfe-KO</text>
<line x1="408.10" y1="351.70" x2="428.70" y2="351.70" stroke="#000000" stroke-width="2.5" stroke-dasharray="0.01 4.74" stroke-linecap="round"/>
<text x="431.00" y="356.30" font-size="12.8" text-anchor="start" font-weight="normal" font-style="normal" fill="#000" >wt (Low Fe)</text>
<line x1="408.10" y1="383.80" x2="428.70" y2="383.80" stroke="#5e5e5e" stroke-width="2.5" stroke-dasharray="0.01 4.74" stroke-linecap="round"/>
<text x="431.00" y="387.60" font-size="12.8" text-anchor="start" font-weight="normal" font-style="normal" fill="#000" >Hfe-KO (Low</text>
<text x="431.00" y="402.70" font-size="12.8" text-anchor="start" font-weight="normal" font-style="normal" fill="#000" >Fe)</text>
<text x="5.00" y="467.30" font-size="17" text-anchor="start" font-weight="bold" font-style="normal" fill="#000" >E</text>
<line x1="72.50" y1="495.00" x2="72.50" y2="662.00" stroke="#a0a0a0" stroke-width="1" />
<line x1="68.00" y1="495.00" x2="72.50" y2="495.00" stroke="#a0a0a0" stroke-width="1" />
<text x="61.00" y="499.50" font-size="12.3" text-anchor="end" font-weight="normal" font-style="normal" fill="#000" >1000</text>
<line x1="68.00" y1="536.58" x2="72.50" y2="536.58" stroke="#a0a0a0" stroke-width="1" />
<text x="61.00" y="541.08" font-size="12.3" text-anchor="end" font-weight="normal" font-style="normal" fill="#000" >100</text>
<line x1="68.00" y1="578.15" x2="72.50" y2="578.15" stroke="#a0a0a0" stroke-width="1" />
<text x="61.00" y="582.65" font-size="12.3" text-anchor="end" font-weight="normal" font-style="normal" fill="#000" >10</text>
<line x1="68.00" y1="619.73" x2="72.50" y2="619.73" stroke="#a0a0a0" stroke-width="1" />
<text x="61.00" y="624.23" font-size="12.3" text-anchor="end" font-weight="normal" font-style="normal" fill="#000" >1</text>
<line x1="68.00" y1="661.30" x2="72.50" y2="661.30" stroke="#a0a0a0" stroke-width="1" />
<text x="61.00" y="665.80" font-size="12.3" text-anchor="end" font-weight="normal" font-style="normal" fill="#000" >0.1</text>
<line x1="68.00" y1="662.00" x2="489.50" y2="662.00" stroke="#a0a0a0" stroke-width="1" />
<line x1="72.60" y1="662.00" x2="72.60" y2="665.50" stroke="#a0a0a0" stroke-width="1" />
<line x1="118.92" y1="662.00" x2="118.92" y2="665.50" stroke="#a0a0a0" stroke-width="1" />
<line x1="165.24" y1="662.00" x2="165.24" y2="665.50" stroke="#a0a0a0" stroke-width="1" />
<line x1="211.56" y1="662.00" x2="211.56" y2="665.50" stroke="#a0a0a0" stroke-width="1" />
<line x1="257.88" y1="662.00" x2="257.88" y2="665.50" stroke="#a0a0a0" stroke-width="1" />
<line x1="304.20" y1="662.00" x2="304.20" y2="665.50" stroke="#a0a0a0" stroke-width="1" />
<line x1="350.52" y1="662.00" x2="350.52" y2="665.50" stroke="#a0a0a0" stroke-width="1" />
<line x1="396.84" y1="662.00" x2="396.84" y2="665.50" stroke="#a0a0a0" stroke-width="1" />
<line x1="443.16" y1="662.00" x2="443.16" y2="665.50" stroke="#a0a0a0" stroke-width="1" />
<line x1="489.48" y1="662.00" x2="489.48" y2="665.50" stroke="#a0a0a0" stroke-width="1" />
<line x1="95.75" y1="540.80" x2="95.75" y2="544.22" stroke="#222" stroke-width="1.2" />
<line x1="93.55" y1="540.80" x2="97.95" y2="540.80" stroke="#222" stroke-width="1.2" />
<rect x="86.60" y="544.22" width="18.3" height="117.08" fill="#d8d8d8" stroke="#505050" stroke-width="1.25"/>
<rect x="87.90" y="545.52" width="15.7" height="115.78" fill="none" stroke="#e9e9e9" stroke-width="0.9"/>
<line x1="142.07" y1="543.60" x2="142.07" y2="545.01" stroke="#222" stroke-width="1.2" />
<line x1="139.87" y1="543.60" x2="144.27" y2="543.60" stroke="#222" stroke-width="1.2" />
<rect x="132.92" y="545.01" width="18.3" height="116.29" fill="#d8d8d8" stroke="#505050" stroke-width="1.25"/>
<rect x="134.22" y="546.31" width="15.7" height="114.99" fill="none" stroke="#e9e9e9" stroke-width="0.9"/>
<line x1="188.39" y1="506.50" x2="188.39" y2="510.40" stroke="#222" stroke-width="1.2" />
<line x1="186.19" y1="506.50" x2="190.59" y2="506.50" stroke="#222" stroke-width="1.2" />
<rect x="179.24" y="510.40" width="18.3" height="150.90" fill="#d8d8d8" stroke="#505050" stroke-width="1.25"/>
<rect x="180.54" y="511.70" width="15.7" height="149.60" fill="none" stroke="#e9e9e9" stroke-width="0.9"/>
<line x1="234.71" y1="616.00" x2="234.71" y2="621.60" stroke="#222" stroke-width="1.2" />
<line x1="232.51" y1="616.00" x2="236.91" y2="616.00" stroke="#222" stroke-width="1.2" />
<rect x="225.56" y="621.60" width="18.3" height="39.70" fill="#d8d8d8" stroke="#505050" stroke-width="1.25"/>
<rect x="226.86" y="622.90" width="15.7" height="38.40" fill="none" stroke="#e9e9e9" stroke-width="0.9"/>
<line x1="281.03" y1="618.80" x2="281.03" y2="626.57" stroke="#222" stroke-width="1.2" />
<line x1="278.83" y1="618.80" x2="283.23" y2="618.80" stroke="#222" stroke-width="1.2" />
<rect x="271.88" y="626.57" width="18.3" height="34.73" fill="#d8d8d8" stroke="#505050" stroke-width="1.25"/>
<rect x="273.18" y="627.87" width="15.7" height="33.43" fill="none" stroke="#e9e9e9" stroke-width="0.9"/>
<line x1="327.35" y1="565.00" x2="327.35" y2="572.32" stroke="#222" stroke-width="1.2" />
<line x1="325.15" y1="565.00" x2="329.55" y2="565.00" stroke="#222" stroke-width="1.2" />
<rect x="318.20" y="572.32" width="18.3" height="88.98" fill="#d8d8d8" stroke="#505050" stroke-width="1.25"/>
<rect x="319.50" y="573.62" width="15.7" height="87.68" fill="none" stroke="#e9e9e9" stroke-width="0.9"/>
<line x1="373.67" y1="581.80" x2="373.67" y2="590.61" stroke="#222" stroke-width="1.2" />
<line x1="371.47" y1="581.80" x2="375.87" y2="581.80" stroke="#222" stroke-width="1.2" />
<rect x="364.52" y="590.61" width="18.3" height="70.69" fill="#d8d8d8" stroke="#505050" stroke-width="1.25"/>
<rect x="365.82" y="591.91" width="15.7" height="69.39" fill="none" stroke="#e9e9e9" stroke-width="0.9"/>
<line x1="419.99" y1="579.00" x2="419.99" y2="587.09" stroke="#222" stroke-width="1.2" />
<line x1="417.79" y1="579.00" x2="422.19" y2="579.00" stroke="#222" stroke-width="1.2" />
<rect x="410.84" y="587.09" width="18.3" height="74.21" fill="#d8d8d8" stroke="#505050" stroke-width="1.25"/>
<rect x="412.14" y="588.39" width="15.7" height="72.91" fill="none" stroke="#e9e9e9" stroke-width="0.9"/>
<line x1="466.31" y1="515.00" x2="466.31" y2="518.52" stroke="#222" stroke-width="1.2" />
<line x1="464.11" y1="515.00" x2="468.51" y2="515.00" stroke="#222" stroke-width="1.2" />
<rect x="457.16" y="518.52" width="18.3" height="142.78" fill="#d8d8d8" stroke="#505050" stroke-width="1.25"/>
<rect x="458.46" y="519.82" width="15.7" height="141.48" fill="none" stroke="#e9e9e9" stroke-width="0.9"/>
<text x="190.05" y="500.03" font-size="15" text-anchor="middle" font-weight="normal" font-style="normal" fill="#000" letter-spacing="0.5">**</text>
<text x="326.65" y="559.83" font-size="15" text-anchor="middle" font-weight="normal" font-style="normal" fill="#000" letter-spacing="0.5">*</text>
<text x="466.85" y="503.43" font-size="15" text-anchor="middle" font-weight="normal" font-style="normal" fill="#000" letter-spacing="0.5">***</text>
<text x="0" y="0" font-size="12.8" text-anchor="middle" font-weight="bold" fill="#000" transform="translate(22.90,578.20) rotate(-90)"><tspan font-style="italic">Hamp</tspan> (Rel to GAPDH)</text>
<text x="95.75" y="685.00" font-size="12.8" text-anchor="middle" font-weight="normal" font-style="normal" fill="#000" >wt</text>
<text x="142.07" y="685.00" font-size="12.8" text-anchor="middle" font-weight="normal" font-style="normal" fill="#000" >Hfe-KO</text>
<text x="188.39" y="685.00" font-size="12.8" text-anchor="middle" font-weight="normal" font-style="normal" fill="#000" >wt</text>
<text x="188.39" y="700.60" font-size="12.8" text-anchor="middle" font-weight="normal" font-style="normal" fill="#000" >(High</text>
<text x="188.39" y="716.00" font-size="12.8" text-anchor="middle" font-weight="normal" font-style="normal" fill="#000" >Fe)</text>
<text x="234.71" y="685.00" font-size="12.8" text-anchor="middle" font-weight="normal" font-style="normal" fill="#000" >wt</text>
<text x="281.03" y="685.00" font-size="12.8" text-anchor="middle" font-weight="normal" font-style="normal" fill="#000" >Hfe-KO</text>
<text x="327.35" y="685.00" font-size="12.8" text-anchor="middle" font-weight="normal" font-style="normal" fill="#000" >wt</text>
<text x="327.35" y="700.60" font-size="12.8" text-anchor="middle" font-weight="normal" font-style="normal" fill="#000" >(High</text>
<text x="327.35" y="716.00" font-size="12.8" text-anchor="middle" font-weight="normal" font-style="normal" fill="#000" >Fe)</text>
<text x="373.67" y="685.00" font-size="12.8" text-anchor="middle" font-weight="normal" font-style="normal" fill="#000" >wt</text>
<text x="419.99" y="685.00" font-size="12.8" text-anchor="middle" font-weight="normal" font-style="normal" fill="#000" >Hfe-KO</text>
<text x="466.31" y="685.00" font-size="12.8" text-anchor="middle" font-weight="normal" font-style="normal" fill="#000" >wt</text>
<text x="466.31" y="700.60" font-size="12.8" text-anchor="middle" font-weight="normal" font-style="normal" fill="#000" >(High</text>
<text x="466.31" y="716.00" font-size="12.8" text-anchor="middle" font-weight="normal" font-style="normal" fill="#000" >Fe)</text>
<line x1="68.00" y1="726.80" x2="194.00" y2="726.80" stroke="#6a6a6a" stroke-width="1.8" />
<text x="135.50" y="746.50" font-size="16" text-anchor="middle" font-weight="normal" font-style="normal" fill="#000" >Steady state</text>
<line x1="222.90" y1="726.80" x2="339.50" y2="726.80" stroke="#6a6a6a" stroke-width="1.8" />
<text x="279.60" y="746.50" font-size="16" text-anchor="middle" font-weight="normal" font-style="normal" fill="#000" >Phlebotomy</text>
<line x1="369.40" y1="726.80" x2="487.00" y2="726.80" stroke="#6a6a6a" stroke-width="1.8" />
<text x="423.40" y="746.50" font-size="16" text-anchor="middle" font-weight="normal" font-style="normal" fill="#000" >Epo</text>
</svg>
</body></html>
